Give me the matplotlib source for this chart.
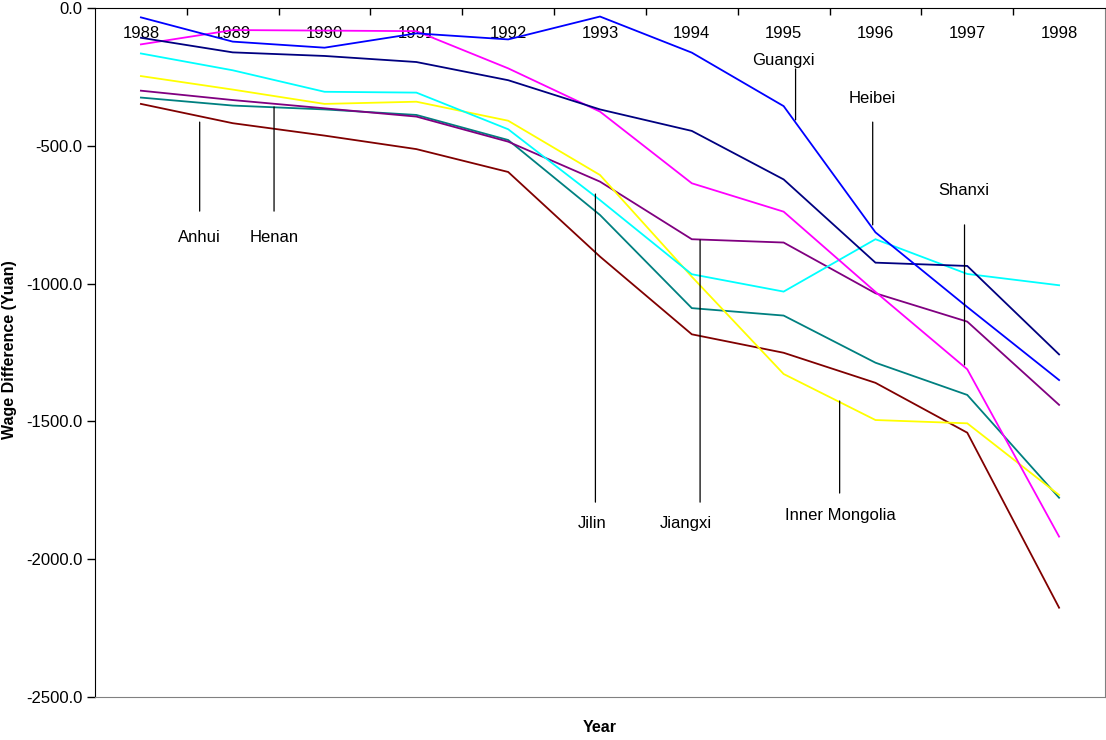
import matplotlib
matplotlib.use("Agg")
import matplotlib.pyplot as plt
from matplotlib.ticker import FixedLocator, FuncFormatter

plt.rcParams['font.family'] = ['Liberation Sans', 'DejaVu Sans']
plt.rcParams['axes.unicode_minus'] = False

years = ["1988", "1989", "1990", "1991", "1992", "1993", "1994", "1995", "1996", "1997", "1998"]

guangxi = [-34, -122, -144, -92, -114, -31, -162, -356, -814, -1085, -1350]
shanxi = [-132, -80, -82, -84, -219, -376, -636, -739, -1030, -1311, -1918]
heibei = [-108, -161, -174, -196, -262, -368, -446, -622, -924, -936, -1257]
jilin = [-165, -226, -304, -307, -440, -697, -966, -1029, -839, -965, -1006]
inner_mongolia = [-247, -296, -348, -340, -409, -606, -975, -1328, -1495, -1507, -1767]
jiangxi = [-300, -334, -364, -394, -485, -630, -839, -851, -1035, -1138, -1440]
henan = [-325, -354, -368, -388, -479, -751, -1089, -1116, -1287, -1404, -1777]
anhui = [-348, -418, -463, -512, -595, -902, -1184, -1251, -1360, -1541, -2176]

series = [
    ("Henan", henan, "#008080"),
    ("Anhui", anhui, "#800000"),
    ("Jiangxi", jiangxi, "#800080"),
    ("Inner Mongolia", inner_mongolia, "#FFFF00"),
    ("Jilin", jilin, "#00FFFF"),
    ("Shanxi", shanxi, "#FF00FF"),
    ("Heibei", heibei, "#000080"),
    ("Guangxi", guangxi, "#0000FF"),
]

# annotation labels: (text, line x, line y top, line y bottom, text x, text y)
labels = [
    ("Anhui", 0.64, -414, -737, 0.64, -831),
    ("Henan", 1.45, -359, -737, 1.45, -831),
    ("Jilin", 4.95, -675, -1793, 4.91, -1869),
    ("Jiangxi", 6.09, -842, -1793, 5.93, -1869),
    ("Inner Mongolia", 7.61, -1426, -1760, 7.62, -1840),
    ("Guangxi", 7.13, -221, -406, 7.0, -192),
    ("Heibei", 7.97, -414, -787, 7.97, -327),
    ("Shanxi", 8.97, -787, -1295, 8.96, -664),
]

fig = plt.figure(figsize=(11.06, 7.40), dpi=100)
ax = fig.add_axes([95 / 1106, 1 - 697 / 740, 1010 / 1106, 689 / 740])

x = list(range(len(years)))
for name, vals, col in series:
    ax.plot(x, vals, color=col, lw=1.3, solid_joinstyle='miter')

for text, lx, y1, y2, tx, ty in labels:
    ax.annotate('', xy=(lx, y1), xytext=(lx, y2),
                arrowprops=dict(arrowstyle='-', color='black', lw=0.9,
                                shrinkA=0, shrinkB=0))
    ax.text(tx, ty, text, ha='center', va='center', fontsize=12, color='black')

ax.set_xlim(-0.5, len(years) - 0.5)
ax.set_ylim(-2500, 0)

# y axis
ax.yaxis.set_major_locator(FixedLocator([0, -500, -1000, -1500, -2000, -2500]))
ax.yaxis.set_major_formatter(FuncFormatter(lambda v, p: f"{v:.1f}"))
ax.tick_params(axis='y', direction='out', length=6, width=1, labelsize=12, pad=3)

# x axis at top (y=0): ticks at category boundaries, labels inside
ax.xaxis.tick_top()
ax.set_xticks(x)
ax.set_xticklabels(years)
ax.set_xticks([i + 0.5 for i in range(len(years) - 1)], minor=True)
ax.tick_params(axis='x', which='major', length=0, labelsize=12, pad=-13)
ax.tick_params(axis='x', which='minor', direction='in', length=5, width=1, top=True, bottom=False)
for lbl in ax.get_xticklabels():
    lbl.set_verticalalignment('top')

ax.spines['top'].set_color('black')
ax.spines['left'].set_color('black')
ax.spines['right'].set_color('#808080')
ax.spines['bottom'].set_color('#808080')

fig.text(600 / 1106, 1 - 727 / 740, "Year", ha='center', va='center', fontsize=11.5, fontweight='bold')
fig.text(10 / 1106, 1 - 350 / 740, "Wage Difference (Yuan)", ha='center', va='center',
         rotation=90, fontsize=11.5, fontweight='bold')

fig.savefig("out.png", dpi=100)
